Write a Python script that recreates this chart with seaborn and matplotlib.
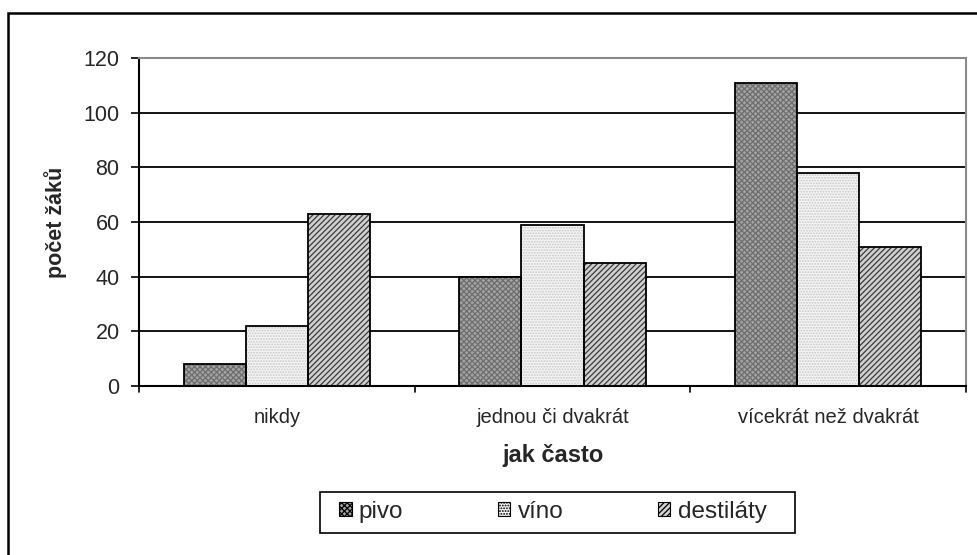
import matplotlib
matplotlib.use("Agg")
import matplotlib.pyplot as plt
from matplotlib.patches import Patch, Rectangle
import seaborn as sns
import pandas as pd

categories = ["nikdy", "jednou či dvakrát", "vícekrát než dvakrát"]
drinks = ["pivo", "víno", "destiláty"]
pivo = [8, 40, 111]
vino = [22, 59, 78]
destilaty = [63, 45, 51]
y_ticks = [0, 20, 40, 60, 80, 100, 120]

df = pd.DataFrame({
    "jak často": categories * 3,
    "nápoj": [d for d in drinks for _ in categories],
    "počet žáků": pivo + vino + destilaty,
})

sns.set_theme(style="white")
plt.rcParams["font.family"] = ["Liberation Sans", "DejaVu Sans"]
plt.rcParams["hatch.linewidth"] = 0.9

styles = {
    "pivo": dict(face="#a3a3a3", hatch="xxxxxx", hcolor="#6e6e6e"),
    "víno": dict(face="#f4f4f4", hatch="......", hcolor="#c8c8c8"),
    "destiláty": dict(face="#d0d0d0", hatch="//////", hcolor="#3a3a3a"),
}

W, H = 977, 555
fig = plt.figure(figsize=(W / 100, H / 100), dpi=100)
fig.patch.set_facecolor("white")
ax = fig.add_axes([139 / W, 1 - 386 / H, (966 - 139) / W, (386 - 58) / H])

sns.barplot(data=df, x="jak často", y="počet žáků", hue="nápoj",
            order=categories, hue_order=drinks, width=0.675, gap=0,
            dodge=True, ax=ax, legend=False, saturation=1)

for container, name in zip(ax.containers, drinks):
    st = styles[name]
    for bar in container:
        bar.set_facecolor(st["face"])
        bar.set_hatch(st["hatch"])
        bar.set_edgecolor(st["hcolor"])
        bar.set_linewidth(0)
        ax.add_patch(Rectangle((bar.get_x(), bar.get_y()), bar.get_width(),
                               bar.get_height(), fill=False, edgecolor="black",
                               linewidth=1.3, zorder=bar.get_zorder() + 0.1))

ax.set_ylim(0, 120)
ax.set_xlim(-0.5, 2.5)
ax.set_yticks(y_ticks)
ax.set_yticklabels([str(v) for v in y_ticks], fontsize=15.5)
ax.set_xticks([0, 1, 2])
ax.set_xticklabels(categories, fontsize=14.5)
ax.tick_params(axis="x", length=0, pad=16)
ax.tick_params(axis="y", length=6, width=1.2, color="black", pad=8,
               left=True, direction="out")
for v in [-0.5, 0.5, 1.5, 2.5]:
    ax.plot([v, v], [0, -0.018], transform=ax.get_xaxis_transform(),
            color="black", lw=1.2, clip_on=False)

for v in y_ticks[1:-1]:
    ax.axhline(v, color="black", lw=1.3, zorder=0.5)
ax.set_axisbelow(True)

for side in ["top", "right"]:
    ax.spines[side].set_color("#8a8a8a")
    ax.spines[side].set_linewidth(1.5)
for side in ["left", "bottom"]:
    ax.spines[side].set_color("black")
    ax.spines[side].set_linewidth(1.5)

ax.set_xlabel("jak často", fontsize=17, fontweight="bold", labelpad=12)
ax.set_ylabel("počet žáků", fontsize=15.5, fontweight="bold", labelpad=12)

# legend entries without their own frame; the box is drawn separately
handles = [Patch(facecolor=styles[d]["face"], hatch=styles[d]["hatch"],
                 edgecolor="black", linewidth=0.8) for d in drinks]
leg = fig.legend(handles, drinks, loc="center", ncol=3,
                 bbox_to_anchor=(553 / W, 1 - 512 / H), fontsize=17.5,
                 frameon=False, handlelength=0.5, handleheight=0.5,
                 handletextpad=0.3, columnspacing=3.9, borderpad=0.35)
fig.add_artist(Rectangle((320 / W, 1 - 533 / H), (795 - 320) / W, 41 / H,
                         transform=fig.transFigure, fill=False,
                         edgecolor="black", linewidth=1.2))

fig.add_artist(Rectangle((8 / W, -0.01), 1.0, 1 - 13 / H + 0.01,
                         transform=fig.transFigure, fill=False,
                         edgecolor="black", linewidth=1.8, clip_on=False))

fig.savefig("out.png", dpi=100)
